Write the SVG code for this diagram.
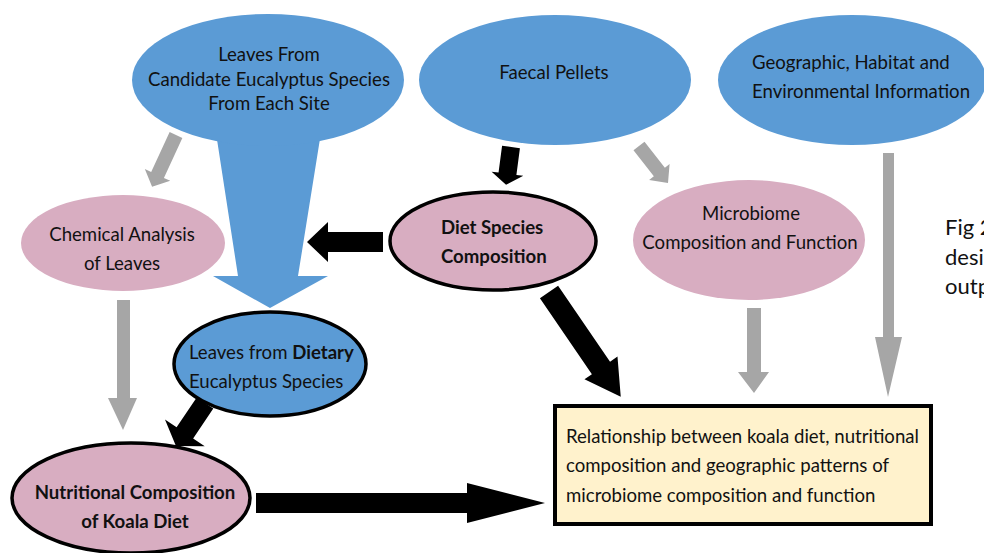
<svg xmlns="http://www.w3.org/2000/svg" width="984" height="553" viewBox="0 0 984 553">
<style>
.t{font-family:Lato,"Open Sans","Liberation Sans",sans-serif;font-size:18.6px;fill:#111}
.b{font-weight:bold}
.blue{fill:#5b9bd5}
.pink{fill:#d8adc1}
.ol{stroke:#000;stroke-width:3.5}
.g{fill:#a6a6a6}
.k{fill:#000}
.cap{font-size:22px}
</style>
<rect width="984" height="553" fill="#fff"/>
<g id="connectors">
  <polygon class="blue" points="214,120 323,120 298,276 328,276 270,308 213,276 238,276"/>
  <polygon class="g" transform="translate(176,135) rotate(114.8)" points="0,-7 44,-7 44,-14 57,0 44,14 44,7 0,7"/>
  <polygon class="g" transform="translate(639,146) rotate(51.9)" points="0,-7 33,-7 33,-13 47,0 33,13 33,7 0,7"/>
  <polygon class="k" transform="translate(511,147) rotate(97.5)" points="0,-9 27,-9 27,-16 38,0 27,16 27,9 0,9"/>
  <polygon class="k" points="383,232 328,232 328,222 307,242 328,262 328,252 383,252"/>
  <polygon class="k" transform="translate(549,292) rotate(55.6)" points="0,-11 92,-11 92,-20 127,0 92,20 92,11 0,11"/>
  <polygon class="k" transform="translate(205,403) rotate(124)" points="0,-10 36,-10 36,-24 52,0 36,24 36,10 0,10"/>
  <polygon class="k" points="256,493 467,493 467,483 545,503 467,523 467,513 256,513"/>
  <polygon class="g" points="117,300 130,300 130,398 137,398 123,430 108,398 117,398"/>
  <polygon class="g" points="747,308 761,308 761,372 769,372 754,393 738,372 747,372"/>
  <polygon class="g" points="883,153 894,153 894,337 902,337 888,397 875,337 883,337"/>
</g>
<g id="leaves-candidate">
  <ellipse class="blue" cx="268" cy="80" rx="136" ry="66"/>
  <text class="t" x="269" y="61" text-anchor="middle">Leaves From</text>
  <text class="t" x="269" y="86" text-anchor="middle">Candidate Eucalyptus Species</text>
  <text class="t" x="269" y="110" text-anchor="middle">From Each Site</text>
</g>
<g id="faecal">
  <ellipse class="blue" cx="555" cy="80" rx="136" ry="65"/>
  <text class="t" x="554" y="79" text-anchor="middle">Faecal Pellets</text>
</g>
<g id="geographic">
  <ellipse class="blue" cx="852" cy="80" rx="134" ry="65"/>
  <text class="t" x="752" y="69">Geographic, Habitat and</text>
  <text class="t" x="752" y="98">Environmental Information</text>
</g>
<g id="chemical">
  <ellipse class="pink" cx="123" cy="243" rx="102" ry="48"/>
  <text class="t" x="122" y="241" text-anchor="middle">Chemical Analysis</text>
  <text class="t" x="122" y="270" text-anchor="middle">of Leaves</text>
</g>
<g id="diet-species">
  <ellipse class="pink ol" cx="493" cy="241" rx="103" ry="49"/>
  <text class="t b" x="441" y="234">Diet Species</text>
  <text class="t b" x="441" y="263">Composition</text>
</g>
<g id="microbiome">
  <ellipse class="pink" cx="749" cy="240" rx="116" ry="60"/>
  <text class="t" x="751" y="220" text-anchor="middle">Microbiome</text>
  <text class="t" x="750" y="249" text-anchor="middle">Composition and Function</text>
</g>
<g id="leaves-dietary">
  <ellipse class="blue ol" cx="270" cy="364" rx="96" ry="52"/>
  <text class="t" x="189" y="359">Leaves from <tspan class="b">Dietary</tspan></text>
  <text class="t" x="189" y="388">Eucalyptus Species</text>
</g>
<g id="nutritional">
  <ellipse class="pink ol" cx="131" cy="498" rx="119" ry="55"/>
  <text class="t b" x="135" y="499" text-anchor="middle">Nutritional Composition</text>
  <text class="t b" x="135" y="528" text-anchor="middle">of Koala Diet</text>
</g>
<g id="relationship">
  <rect x="555" y="406" width="376" height="118" fill="#fff2cc" stroke="#000" stroke-width="4"/>
  <text class="t" x="566" y="443">Relationship between koala diet, nutritional</text>
  <text class="t" x="566" y="472">composition and geographic patterns of</text>
  <text class="t" x="566" y="502">microbiome composition and function</text>
</g>
<g id="caption">
  <text class="t cap" x="945" y="235">Fig 2</text>
  <text class="t cap" x="945" y="265">desi</text>
  <text class="t cap" x="945" y="294">outp</text>
</g>
</svg>
